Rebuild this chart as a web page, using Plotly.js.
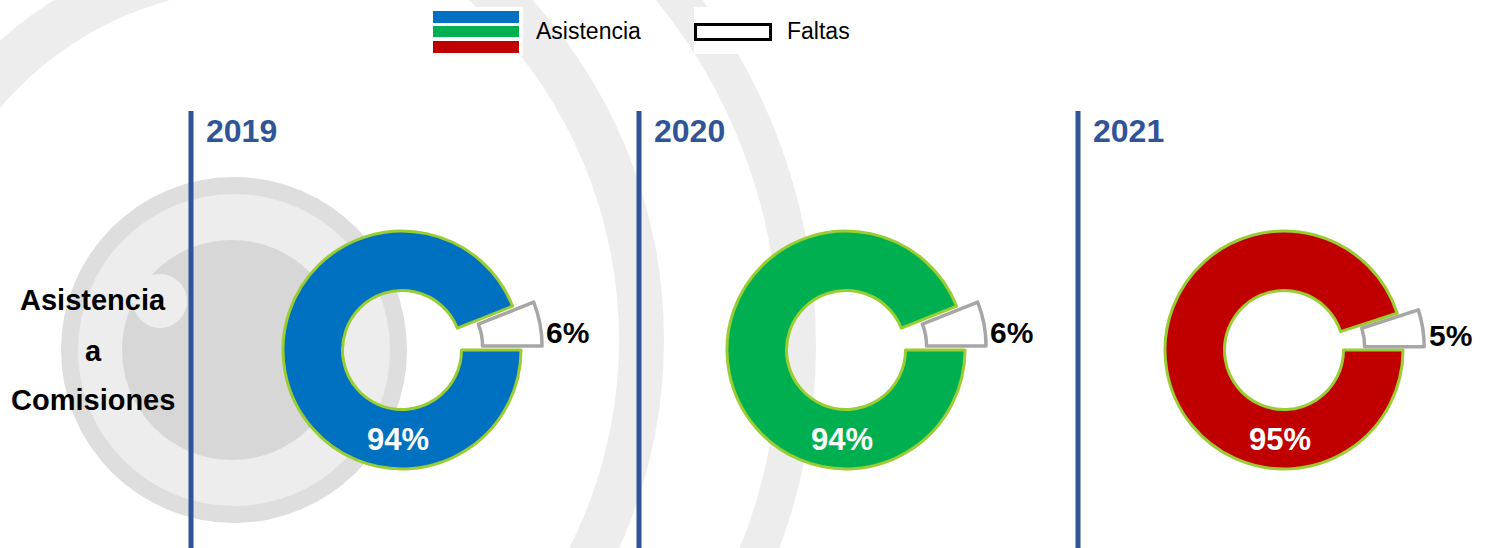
<!DOCTYPE html>
<html>
<head>
<meta charset="utf-8">
<script src="https://cdn.plot.ly/plotly-3.0.1.min.js"></script>
<style>
  html, body { margin: 0; padding: 0; background: #ffffff; }
  #chart { width: 1485px; height: 548px; }
</style>
</head>
<body>
<div id="chart"></div>
<script>
// ---------------- data ----------------
const years = ['2019', '2020', '2021'];
const categories = ['Asistencia', 'Faltas'];
const asistencia = [94, 94, 95];
const faltas = [6, 6, 5];
const seriesColors = ['#0070C0', '#00B050', '#C00000'];
const rowLabel = ['Asistencia', 'a', 'Comisiones'];

// ---------------- layout helpers ----------------
const W = 1485, H = 548;
const px = x => x / W;
const py = y => 1 - y / H;

const panelLineX = [191, 639, 1078];
const pieCX = [402, 846, 1284];
const pieCY = 350;
const pieR = 119;
const PULL = 0.18;
const HOLE = 0.5;

const shapes = [];
function disk(cx, cy, r, color) {
  shapes.push({type: 'circle', xref: 'paper', yref: 'paper', layer: 'below',
    x0: px(cx - r), x1: px(cx + r), y0: py(cy + r), y1: py(cy - r),
    fillcolor: color, line: {width: 0}});
}
function arcBand(cx, cy, rIn, rOut, a0, a1, color) {
  const n = 60; let d = '';
  for (let i = 0; i <= n; i++) {
    const a = (a0 + (a1 - a0) * i / n) * Math.PI / 180;
    d += (i === 0 ? 'M' : 'L') + px(cx + rOut * Math.cos(a)).toFixed(5) + ',' + py(cy - rOut * Math.sin(a)).toFixed(5) + ' ';
  }
  for (let i = n; i >= 0; i--) {
    const a = (a0 + (a1 - a0) * i / n) * Math.PI / 180;
    d += 'L' + px(cx + rIn * Math.cos(a)).toFixed(5) + ',' + py(cy - rIn * Math.sin(a)).toFixed(5) + ' ';
  }
  d += 'Z';
  shapes.push({type: 'path', xref: 'paper', yref: 'paper', layer: 'below', path: d,
    fillcolor: color, line: {width: 0}});
}

// background watermark (decorative)
const wm = '#ededed';
disk(234, 345, 582, wm); disk(234, 345, 545, '#ffffff');
disk(159, 340, 505, wm); disk(159, 340, 460, '#ffffff');
arcBand(260, 330, 342, 389, 95, 200, wm);
disk(234, 350, 173, '#dedede');
disk(234, 350, 156, '#ededed');
disk(232, 350, 110, '#d7d7d7');
disk(160, 301, 27, '#ededed');

// panel separator lines
panelLineX.forEach(x => shapes.push({type: 'line', xref: 'paper', yref: 'paper', layer: 'above',
  x0: px(x), x1: px(x), y0: py(111), y1: 0, line: {color: '#2F5597', width: 5}}));

// custom legend
function rect(x0, y0, x1, y1, fill, lineColor, lw) {
  shapes.push({type: 'rect', xref: 'paper', yref: 'paper', layer: 'above',
    x0: px(x0), x1: px(x1), y0: py(y1), y1: py(y0), fillcolor: fill,
    line: {color: lineColor || fill, width: lw || 0}});
}
rect(428, 7, 523, 56, '#ffffff');
rect(694, 7, 790, 54, '#ffffff');
rect(433, 11, 519, 23, seriesColors[0]);
rect(433, 26, 519, 37, seriesColors[1]);
rect(433, 41, 519, 53, seriesColors[2]);
rect(695.5, 24.5, 770.5, 39.5, '#ffffff', '#000000', 3);

// ---------------- traces ----------------
const data = years.map((yr, i) => {
  const half = pieR * (1 + PULL);
  return {
    type: 'pie', name: yr,
    labels: categories,
    values: [asistencia[i], faltas[i]],
    sort: false, direction: 'clockwise', rotation: 90,
    hole: HOLE, pull: [0, PULL],
    textinfo: 'none', hoverinfo: 'label+percent',
    showlegend: false,
    marker: {colors: [seriesColors[i], '#ffffff'],
             line: {color: ['#9ACD32', '#A6A6A6'], width: [3, 3.5]}},
    domain: {x: [px(pieCX[i] - half), px(pieCX[i] + half)],
             y: [py(pieCY + half), py(pieCY - half)]}
  };
});

// ---------------- annotations ----------------
const ann = [];
const font = (size, color) => ({family: 'Liberation Sans, Arial, sans-serif', size: size, color: color});
years.forEach((yr, i) => {
  ann.push({xref: 'paper', yref: 'paper', x: px(panelLineX[i] + 13), y: py(131), xanchor: 'left', yanchor: 'middle',
    text: '<b>' + yr + '</b>', showarrow: false, font: font(32, '#2F5597')});
  const tot = asistencia[i] + faltas[i];
  const pa = Math.round(100 * asistencia[i] / tot), pf = Math.round(100 * faltas[i] / tot);
  ann.push({xref: 'paper', yref: 'paper', x: px(pieCX[i] - 4), y: py(pieCY + 89), xanchor: 'center', yanchor: 'middle',
    text: '<b>' + pa + '%</b>', showarrow: false, font: font(31, '#ffffff')});
  const th = (faltas[i] / tot) * Math.PI; // half of slice angle
  const rr = pieR * (1 + PULL);
  ann.push({xref: 'paper', yref: 'paper', x: px(pieCX[i] + rr * Math.cos(th) + 4),
    y: py(pieCY - rr * Math.sin(th) * 0.66), xanchor: 'left', yanchor: 'middle',
    text: '<b>' + pf + '%</b>', showarrow: false, font: font(30, '#000000')});
});
const rowY = [300, 351, 400];
rowLabel.forEach((t, k) => ann.push({xref: 'paper', yref: 'paper', x: px(93), y: py(rowY[k]), xanchor: 'center', yanchor: 'middle',
  text: '<b>' + t + '</b>', showarrow: false, font: font(29, '#000000')}));
ann.push({xref: 'paper', yref: 'paper', x: px(534), y: py(31), xanchor: 'left', yanchor: 'middle',
  text: categories[0], showarrow: false, font: font(23, '#000000')});
ann.push({xref: 'paper', yref: 'paper', x: px(785), y: py(31), xanchor: 'left', yanchor: 'middle',
  text: categories[1], showarrow: false, font: font(23, '#000000')});

const layout = {
  width: W, height: H,
  margin: {l: 0, r: 0, t: 0, b: 0, pad: 0},
  paper_bgcolor: '#ffffff', plot_bgcolor: '#ffffff',
  showlegend: false,
  shapes: shapes, annotations: ann
};
Plotly.newPlot('chart', data, layout, {displayModeBar: false, staticPlot: true});
</script>
</body>
</html>
